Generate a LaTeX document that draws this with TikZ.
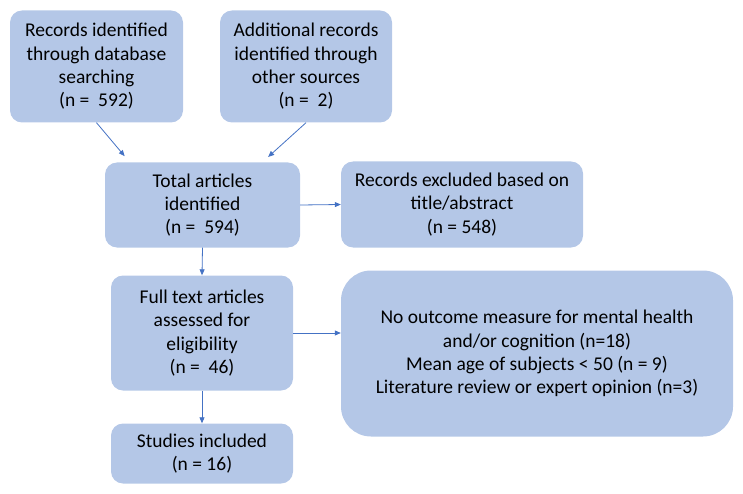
\documentclass[tikz,border=0pt]{standalone}
\usepackage{fontspec}
\setmainfont{Carlito}
\usepackage{tikz}
\usetikzlibrary{calc,arrows.meta}
\definecolor{boxfill}{HTML}{B4C7E7}
\definecolor{arrowblue}{HTML}{4472C4}

\begin{document}
\begin{tikzpicture}[x=1pt,y=-1pt,
    box/.style={fill=boxfill,rounded corners=12pt,align=center,inner sep=0pt,
        font=\fontsize{19.5}{23.3}\selectfont},
    arr/.style={draw=arrowblue,line width=0.8pt,-{Triangle[length=6pt,width=5pt]}}]
    \useasboundingbox (0,0) rectangle (743,494);
    \node[box,minimum width=173pt,minimum height=112pt] at (96.5,66.5) (db) {Records identified\\through database\\searching\\(n =\ \ 592)};
    \node[box,minimum width=172pt,minimum height=112pt] at (306,66.5) (other) {Additional records\\identified through\\other sources\\(n =\ \ 2)};
    \node[box,minimum width=195pt,minimum height=85pt] at (202.5,205) (total) {Total articles\\identified\\(n =\ \ 594)};
    \node[box,minimum width=242pt,minimum height=86pt] at (462,204.5) (excl) {Records excluded based on\\title/abstract\\(n = 548)};
    \node[box,minimum width=182pt,minimum height=115pt] at (202,333) (full) {Full text articles\\assessed for\\eligibility\\(n =\ \ 46)};
    \node[box,minimum width=182pt,minimum height=60pt] at (202,453.5) (incl) {Studies included\\(n = 16)};
    \node[box,rounded corners=30pt,minimum width=392pt,minimum height=166pt] at (537,353.5) (reasons) {No outcome measure for mental health\\and/or cognition (n=18)\\Mean age of subjects < 50 (n = 9)\\Literature review or expert opinion (n=3)};
    \draw[arr,shorten >=8pt] (db.south) -- ([xshift=25pt]total.north west);
    \draw[arr,shorten >=8pt] (other.south) -- ([xshift=-38pt]total.north east);
    \draw[arr] (total.east) -- (excl.west);
    \draw[arr] (total.south) -- (full.north);
    \draw[arr] (full.south) -- (incl.north);
    \draw[arr] (full.east) -- (full.east -| reasons.west);
\end{tikzpicture}
\end{document}
